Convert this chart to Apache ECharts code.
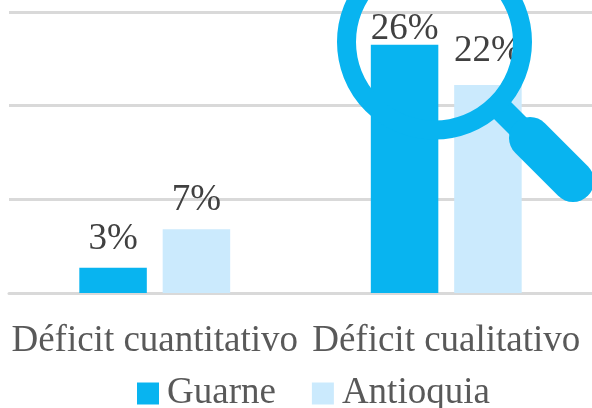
<!DOCTYPE html>
<html><head><meta charset="utf-8">
<style>html,body{margin:0;padding:0;background:#fff}#c{width:592px;height:408px}</style>
<script src="https://cdn.jsdelivr.net/npm/echarts@6/dist/echarts.min.js"></script>
</head><body><div id="c"></div>
<script>
const categories = ['Déficit cuantitativo', 'Déficit cualitativo'];
const guarne = [2.7, 26.5];
const antioquia = [6.8, 22.2];
const shownGuarne = ['3%', '26%'];
const shownAntioquia = ['7%', '22%'];
const gapsGuarne = [10, -3];
const gapsAntioquia = [11, 15];
const FONT = '"Liberation Serif", serif';
const chart = echarts.init(document.getElementById('c'), null, {renderer:'canvas'});
function series(name, data, shown, gaps, color){
  return {name, type:'bar', barWidth:67.5, barGap:'23.5%', itemStyle:{color},
    data:data.map((value,i)=>({value, label:{distance:gaps[i]}})),
    label:{show:true, position:'top', color:'#404040', fontFamily:FONT, fontSize:37,
      formatter:p=>shown[p.dataIndex]}};
}
chart.setOption({
  animation:false,
  backgroundColor:'#fff',
  grid:{left:9, right:-1, top:12, bottom:115},
  legend:{bottom:-9, left:132, itemWidth:22, itemHeight:22, itemGap:36,
    icon:'rect', textStyle:{color:'#595959', fontFamily:FONT, fontSize:37, padding:[0,0,0,3]}},
  xAxis:{type:'category', data:categories,
    axisLine:{lineStyle:{color:'#d9d9d9', width:3}}, axisTick:{show:false},
    axisLabel:{interval:0, color:'#595959', fontFamily:FONT, fontSize:37, margin:30, hideOverlap:false}},
  yAxis:{type:'value', min:0, max:30, interval:10,
    axisLabel:{show:false}, axisLine:{show:false}, axisTick:{show:false},
    splitLine:{lineStyle:{color:'#d9d9d9', width:3}}},
  series:[series('Guarne', guarne, shownGuarne, gapsGuarne, '#08b4f0'),
          series('Antioquia', antioquia, shownAntioquia, gapsAntioquia, '#cbeafd')],
  graphic:[
    {type:'line', z:100, shape:{x1:495,y1:103,x2:530,y2:138}, style:{stroke:'#08b4f0',lineWidth:24}},
    {type:'line', z:100, shape:{x1:530,y1:138,x2:573,y2:181}, style:{stroke:'#08b4f0',lineWidth:42,lineCap:'round'}},
    {type:'circle', z:101, shape:{cx:434.5,cy:42,r:88}, style:{fill:'none',stroke:'#08b4f0',lineWidth:19}}
  ]
});
</script></body></html>
